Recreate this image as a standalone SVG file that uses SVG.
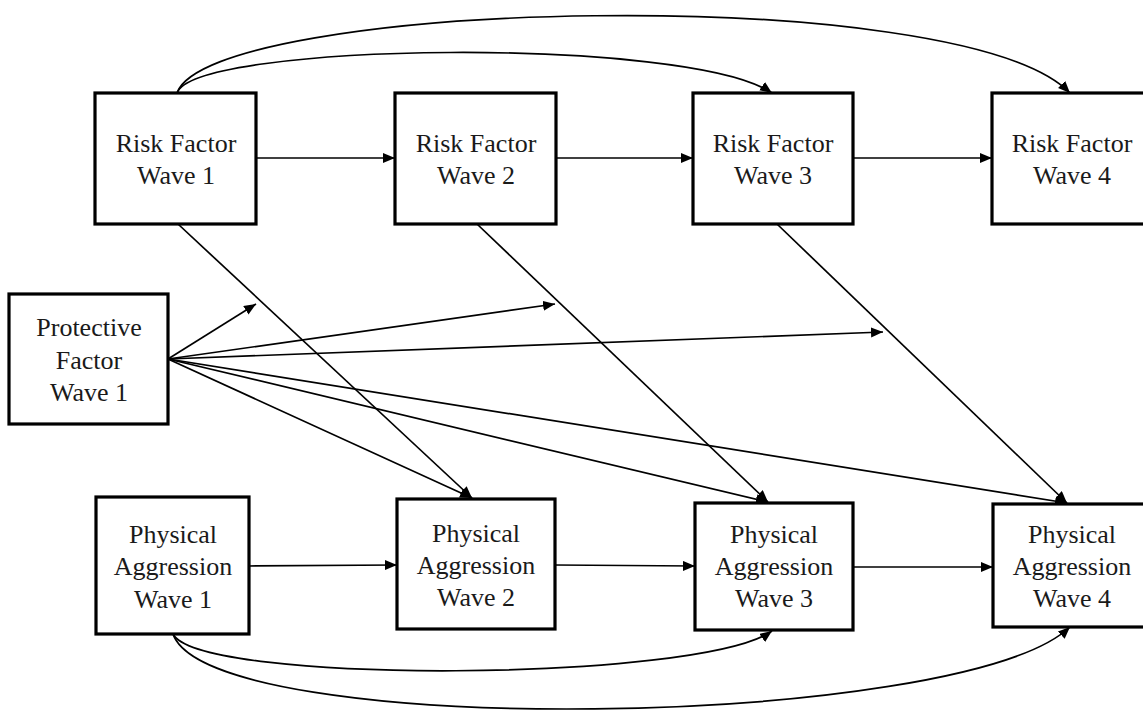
<svg xmlns="http://www.w3.org/2000/svg" width="1143" height="711" viewBox="0 0 1143 711">
<defs>
<marker id="ah" markerUnits="userSpaceOnUse" markerWidth="13" markerHeight="11" refX="12" refY="5" orient="auto">
<path d="M0,0 L12,5 L0,10 z" fill="#000"/>
</marker>
<style>
.box{fill:#fff;stroke:#000;stroke-width:3.2}
.t{font-size:26px;fill:#1a1a1a;text-anchor:middle}
.c{fill:none;stroke:#000;stroke-width:1.7;marker-end:url(#ah)}
</style>
</defs>
<rect width="1143" height="711" fill="#fff"/>
<g id="connectors">
<path class="c" d="M177,93 C195,42 690,36 772,93"/>
<path class="c" d="M177,93 C210,0 960,-20 1070,93"/>
<path class="c" d="M256,158 L395,158"/>
<path class="c" d="M556,158 L693,158"/>
<path class="c" d="M853,158 L992,158"/>
<path class="c" d="M249,566 L397,565"/>
<path class="c" d="M555,565 L695,566"/>
<path class="c" d="M853,567 L993,567"/>
<path class="c" d="M173,634 C200,685 700,682 772,631"/>
<path class="c" d="M173,634 C210,740 960,730 1070,627"/>
<path class="c" d="M178,224 L472,498"/>
<path class="c" d="M477,224 L768,502"/>
<path class="c" d="M777,224 L1067,503"/>
<path class="c" d="M168,359 L256,304"/>
<path class="c" d="M168,359 L555,304"/>
<path class="c" d="M168,359 L883,332"/>
<path class="c" d="M168,359 L472,498"/>
<path class="c" d="M168,359 L768,502"/>
<path class="c" d="M168,359 L1067,503"/>
</g>
<g font-family="Liberation Serif, Tinos, DejaVu Serif, serif">
<g id="rf1"><rect class="box" x="95" y="93" width="161" height="131"/><text class="t" x="176" y="152">Risk Factor</text><text class="t" x="176" y="184">Wave 1</text></g>
<g id="rf2"><rect class="box" x="395" y="93" width="161" height="131"/><text class="t" x="476" y="152">Risk Factor</text><text class="t" x="476" y="184">Wave 2</text></g>
<g id="rf3"><rect class="box" x="693" y="93" width="160" height="131"/><text class="t" x="773" y="152">Risk Factor</text><text class="t" x="773" y="184">Wave 3</text></g>
<g id="rf4"><rect class="box" x="992" y="93" width="160" height="131"/><text class="t" x="1072" y="152">Risk Factor</text><text class="t" x="1072" y="184">Wave 4</text></g>
<g id="pf1"><rect class="box" x="9" y="294" width="159" height="130"/><text class="t" x="89" y="336">Protective</text><text class="t" x="89" y="369">Factor</text><text class="t" x="89" y="401">Wave 1</text></g>
<g id="pa1"><rect class="box" x="96" y="497" width="153" height="137"/><text class="t" x="173" y="543">Physical</text><text class="t" x="173" y="575">Aggression</text><text class="t" x="173" y="608">Wave 1</text></g>
<g id="pa2"><rect class="box" x="397" y="499" width="158" height="130"/><text class="t" x="476" y="542">Physical</text><text class="t" x="476" y="574">Aggression</text><text class="t" x="476" y="606">Wave 2</text></g>
<g id="pa3"><rect class="box" x="695" y="503" width="158" height="127"/><text class="t" x="774" y="543">Physical</text><text class="t" x="774" y="575">Aggression</text><text class="t" x="774" y="607">Wave 3</text></g>
<g id="pa4"><rect class="box" x="993" y="504" width="158" height="123"/><text class="t" x="1072" y="543">Physical</text><text class="t" x="1072" y="575">Aggression</text><text class="t" x="1072" y="607">Wave 4</text></g>
</g>
</svg>
